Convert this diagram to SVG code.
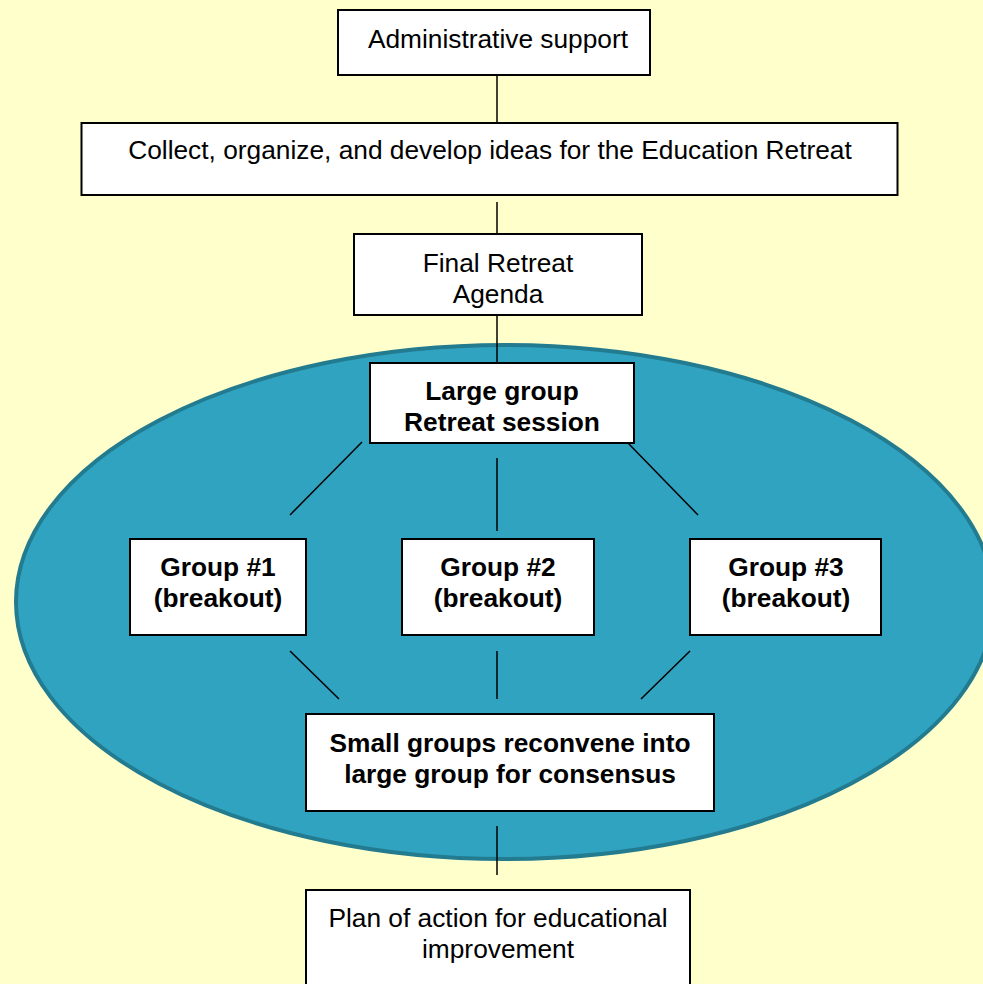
<svg xmlns="http://www.w3.org/2000/svg" width="983" height="984" viewBox="0 0 983 984">
<style>
.box{fill:#FFFFFF;stroke:#000000;stroke-width:2}
.t{font-family:"Liberation Sans",Arial,sans-serif;font-size:26.3px;fill:#000000;text-anchor:middle}
.b{font-weight:bold}
.c{stroke:#000000;stroke-width:1.5;fill:none}
</style>
<rect x="0" y="0" width="983" height="984" fill="#FFFFCC"/>
<ellipse id="session-oval" cx="505" cy="602" rx="489" ry="257" fill="#30A3C1" stroke="#237B90" stroke-width="4"/>
<g id="connectors">
<line class="c" x1="497" y1="75" x2="497" y2="123"/>
<line class="c" x1="497" y1="202" x2="497" y2="234"/>
<line class="c" x1="497" y1="315" x2="497" y2="363"/>
<line class="c" x1="362" y1="442" x2="290" y2="515"/>
<line class="c" x1="497" y1="458" x2="497" y2="531"/>
<line class="c" x1="628" y1="443" x2="698" y2="515"/>
<line class="c" x1="290" y1="651" x2="339" y2="699"/>
<line class="c" x1="497" y1="651" x2="497" y2="699"/>
<line class="c" x1="690" y1="651" x2="641" y2="699"/>
<line class="c" x1="497" y1="826" x2="497" y2="875"/>
</g>
<g id="admin">
<rect class="box" x="338" y="10" width="312" height="65"/>
<text class="t" x="498" y="48">Administrative support</text>
</g>
<g id="collect">
<rect class="box" x="81.5" y="123" width="816" height="72"/>
<text class="t" x="490" y="159">Collect, organize, and develop ideas for the Education Retreat</text>
</g>
<g id="agenda">
<rect class="box" x="354" y="234" width="288" height="81"/>
<text class="t" x="498" y="272">Final Retreat</text>
<text class="t" x="498" y="303">Agenda</text>
</g>
<g id="large-group">
<rect class="box" x="370" y="363" width="264" height="80"/>
<text class="t b" x="502" y="400">Large group</text>
<text class="t b" x="502" y="431">Retreat session</text>
</g>
<g id="group1">
<rect class="box" x="130" y="539" width="176" height="96"/>
<text class="t b" x="218" y="576">Group #1</text>
<text class="t b" x="218" y="607">(breakout)</text>
</g>
<g id="group2">
<rect class="box" x="402" y="539" width="192" height="96"/>
<text class="t b" x="498" y="576">Group #2</text>
<text class="t b" x="498" y="607">(breakout)</text>
</g>
<g id="group3">
<rect class="box" x="690" y="539" width="191" height="96"/>
<text class="t b" x="786" y="576">Group #3</text>
<text class="t b" x="786" y="607">(breakout)</text>
</g>
<g id="consensus">
<rect class="box" x="306" y="714" width="408" height="97"/>
<text class="t b" x="510" y="752">Small groups reconvene into</text>
<text class="t b" x="510" y="783">large group for consensus</text>
</g>
<g id="plan">
<rect class="box" x="306" y="890" width="384" height="100"/>
<text class="t" x="498" y="927">Plan of action for educational</text>
<text class="t" x="498" y="958">improvement</text>
</g>
</svg>
